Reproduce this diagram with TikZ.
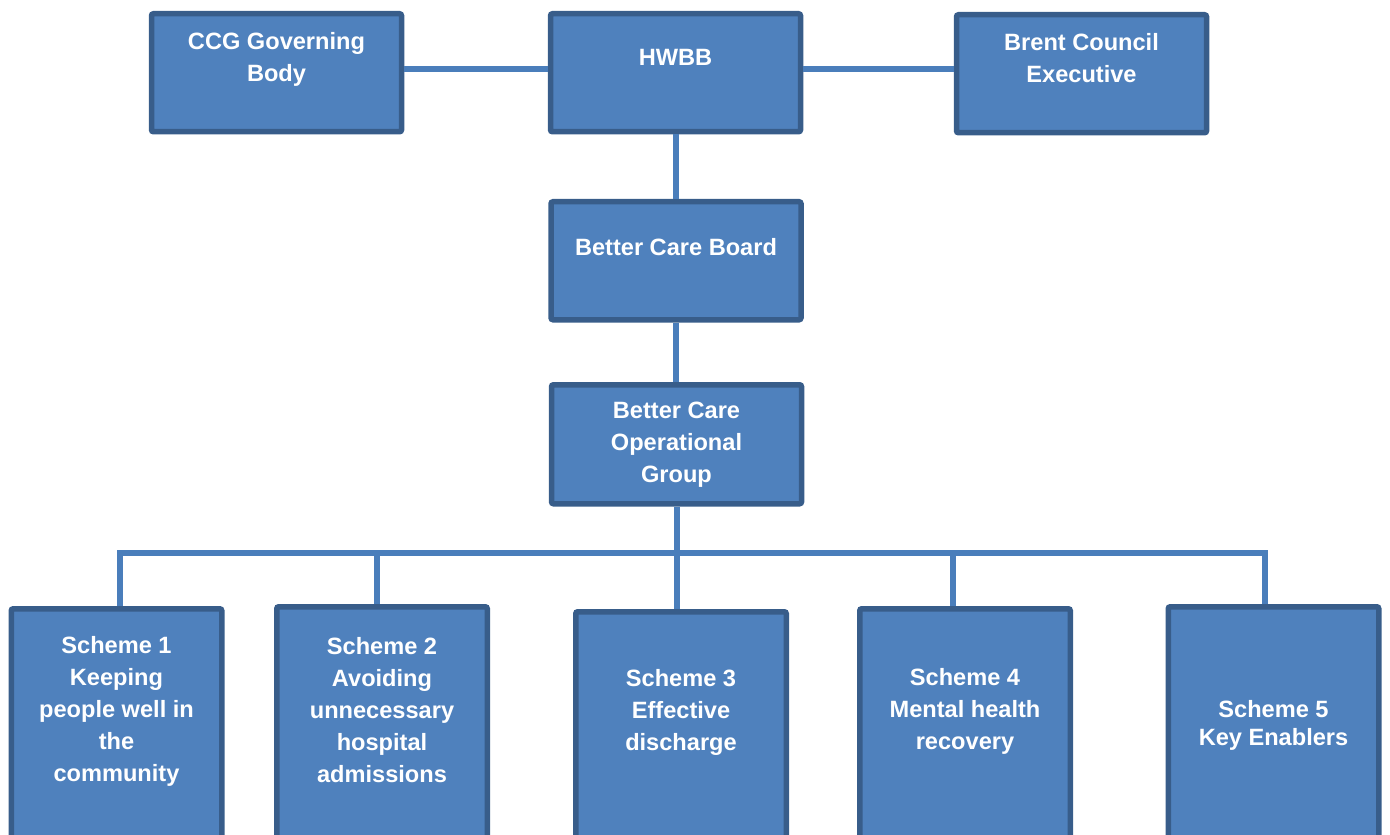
\documentclass[tikz,border=0pt]{standalone}
\usepackage{fontspec}
\setmainfont{Liberation Sans}
\usepackage{xcolor}
\definecolor{boardfill}{HTML}{4F81BD}
\definecolor{boardline}{HTML}{385D8A}
\definecolor{linkblue}{HTML}{4A7EBB}

\begin{document}
\begin{tikzpicture}[x=0.5pt,y=-0.5pt,
  board/.style n args={2}{anchor=north,rectangle,draw=boardline,fill=boardfill,line width=2.75pt,rounded corners=1pt,minimum width=#1,minimum height=#2,inner sep=0pt},
  boardtext/.style={text=white,font=\bfseries\fontsize{11.8}{16}\selectfont,align=center,anchor=center},
  link/.style={draw=linkblue,line width=3pt}]
\useasboundingbox (0,0) rectangle (1390,834);
\clip (0,0) rectangle (1390,834);
\node[board={125pt}{59pt},label={[boardtext,yshift=-24.25pt]north:{CCG Governing\\Body}}] (ccg) at (276.5,11) {};
\node[board={125pt}{59pt},label={[boardtext,yshift=-23.25pt]north:{HWBB}}] (hwbb) at (675.5,11) {};
\node[board={125pt}{59pt},label={[boardtext,yshift=-23.25pt]north:{Brent Council\\Executive}}] (brent) at (1081.5,12) {};
\node[board={125pt}{59pt},label={[boardtext,yshift=-24.25pt]north:{Better Care Board}}] (bcb) at (676,199) {};
\node[board={125pt}{59.5pt},label={[boardtext,yshift=-31.25pt]north:{Better Care\\Operational\\Group}}] (bcog) at (676.5,382) {};
\foreach \i/\x/\y/\off/\lbl in %
{1/116.5/606/52.75/{Scheme 1\\Keeping\\people well in\\the\\community},
 2/382/604/53.25/{Scheme 2\\Avoiding\\unnecessary\\hospital\\admissions},
 3/681/609/51.75/{Scheme 3\\Effective\\discharge},
 4/965/606/52.75/{Scheme 4\\Mental health\\recovery},
 5/1273.5/604/60.75/{Scheme 5\\[-2pt]Key Enablers}} {
   \node[board={105.25pt}{150pt},label={[boardtext,yshift=-\off pt]north:{\lbl}}] (s\i) at (\x,\y) {};
}
\foreach \i/\x in %
{1/120,2/377,3/676,4/953,5/1265} {
   \coordinate (d\i) at (\x,553);
}
\draw[link] ([yshift=1.75pt]ccg.east) -- ([yshift=1.75pt]hwbb.west);
\draw[link] ([yshift=1.75pt]hwbb.east) -- ([yshift=1.75pt]hwbb.east -| brent.west);
\draw[link] (hwbb.south) -- (hwbb.south |- bcb.north);
\draw[link] (bcb.south) -- (bcb.south |- bcog.north);
\draw[link] (bcog.south) -- (bcog.south |- s3.north);
\draw[link] (d1 |- s1.north) -- (d1) -- (d5) -- (d5 |- s5.north);
\draw[link] (d2) -- (d2 |- s2.north);
\draw[link] (d4) -- (d4 |- s4.north);
\end{tikzpicture}
\end{document}
